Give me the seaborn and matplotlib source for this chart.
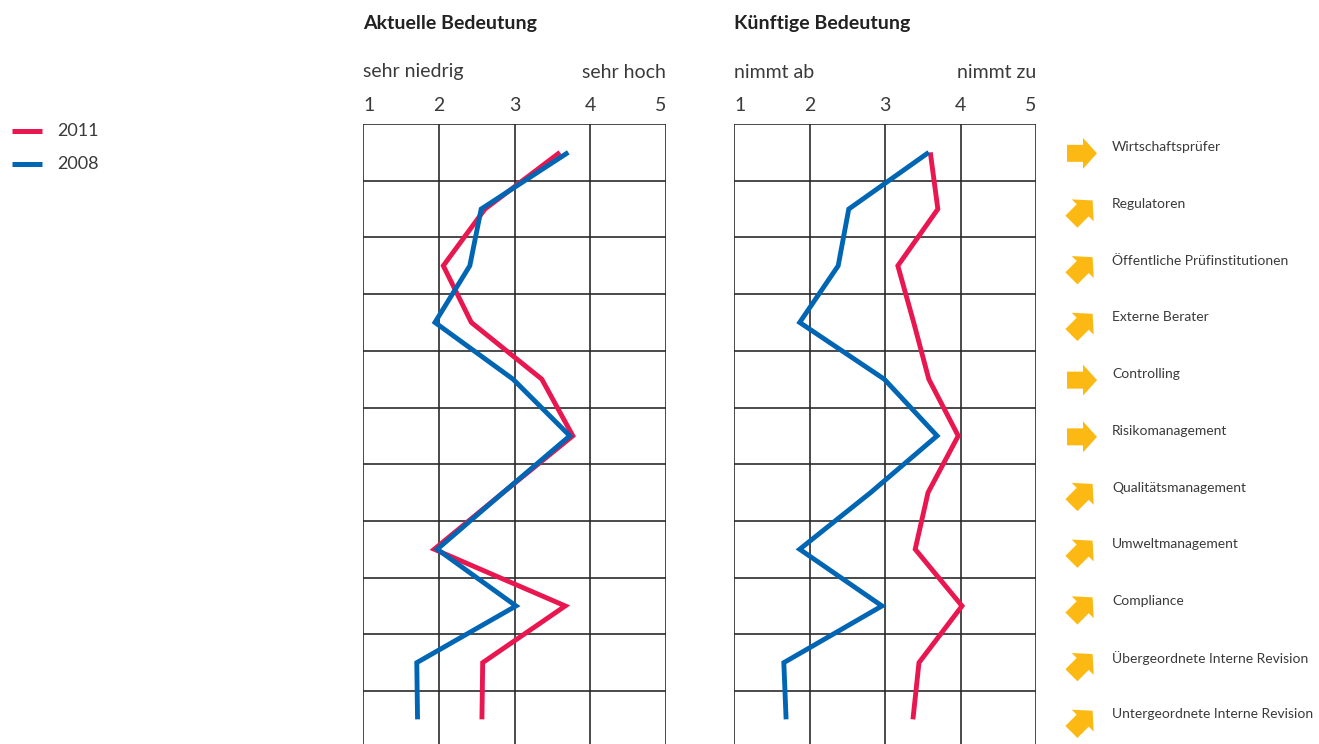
import numpy as np
import pandas as pd
import matplotlib
matplotlib.use("Agg")
import matplotlib.pyplot as plt
from matplotlib.patches import Polygon
import seaborn as sns

# --- data -------------------------------------------------------------
categories = [
    "Wirtschaftsprüfer",
    "Regulatoren",
    "Öffentliche Prüfinstitutionen",
    "Externe Berater",
    "Controlling",
    "Risikomanagement",
    "Qualitätsmanagement",
    "Umweltmanagement",
    "Compliance",
    "Übergeordnete Interne Revision",
    "Untergeordnete Interne Revision",
]
years = ["2011", "2008"]

current_2011 = [3.60, 2.61, 2.06, 2.43, 3.36, 3.77, 2.85, 1.94, 3.67, 2.58, 2.57]
current_2008 = [3.71, 2.56, 2.41, 1.95, 2.98, 3.73, 2.85, 1.98, 3.02, 1.71, 1.72]
future_2011 = [3.60, 3.70, 3.17, 3.38, 3.58, 3.97, 3.57, 3.40, 4.02, 3.45, 3.37]
future_2008 = [3.58, 2.52, 2.38, 1.87, 2.99, 3.69, 2.81, 1.87, 2.96, 1.66, 1.69]

# trend direction per category: "right" = stable, "up" = rising
trend = ["right", "up", "up", "up", "right", "right", "up", "up", "up", "up", "up"]

scale_ticks = [1, 2, 3, 4, 5]
panel_titles = ["Aktuelle Bedeutung", "Künftige Bedeutung"]
scale_ends = [("sehr niedrig", "sehr hoch"), ("nimmt ab", "nimmt zu")]

# --- style ------------------------------------------------------------
sns.set_theme(style="white")
plt.rcParams["font.family"] = ["Lato", "DejaVu Sans"]
TEXT = "#3a3a3a"
GRID = "#2b2b2b"
palette = {"2011": "#E8174F", "2008": "#0066B3"}
ARROW = "#FDB913"

W, H = 1319, 744
fig = plt.figure(figsize=(W / 100, H / 100), dpi=100)
fig.patch.set_facecolor("white")

top_px, row_px = 124, 56.7
n = len(categories)
bottom_px = top_px + row_px * n


def axes_px(x0, x1):
    return fig.add_axes([x0 / W, (H - bottom_px) / H, (x1 - x0) / W, (bottom_px - top_px) / H])


def long_frame(a, b):
    rows = []
    for yr, vals in zip(years, (a, b)):
        for i, v in enumerate(vals):
            rows.append({"year": yr, "row": i, "value": v})
    return pd.DataFrame(rows)


panels = [
    (363, 666, long_frame(current_2011, current_2008)),
    (734, 1036, long_frame(future_2011, future_2008)),
]

for (x0, x1, df), title, (lo, hi) in zip(panels, panel_titles, scale_ends):
    ax = axes_px(x0, x1)
    ax.set_facecolor("white")
    sns.lineplot(
        data=df, x="value", y="row", hue="year", hue_order=years,
        palette=palette, orient="y", sort=False, estimator=None,
        linewidth=3.5, legend=False, ax=ax,
        solid_capstyle="butt", solid_joinstyle="miter",
    )
    ax.set_xlim(1, 5)
    ax.set_ylim(n - 0.5, -0.5)
    for s in ax.spines.values():
        s.set_visible(False)
    for xv in scale_ticks:
        ax.axvline(xv, color=GRID, lw=1.2, zorder=0)
    for yb in np.arange(-0.5, n, 1.0):
        ax.axhline(yb, color=GRID, lw=1.2, zorder=0)
    ax.set_yticks([])
    ax.set_xlabel("")
    ax.set_ylabel("")
    ax.xaxis.tick_top()
    ax.set_xticks(scale_ticks)
    ax.set_xticklabels([str(t) for t in scale_ticks], fontsize=14, color=TEXT)
    ax.tick_params(axis="x", length=0, pad=7)
    labels = ax.get_xticklabels()
    labels[0].set_ha("left")
    labels[-1].set_ha("right")

    fig.text(x0 / W, 1 - 72 / H, lo, fontsize=14, color=TEXT, ha="left", va="center")
    fig.text(x1 / W, 1 - 72 / H, hi, fontsize=14, color=TEXT, ha="right", va="center")
    fig.text(x0 / W, 1 - 23 / H, title, fontsize=14, color="#222222",
             fontweight="bold", ha="left", va="center")

# --- legend -----------------------------------------------------------
for yr, ypx in zip(years, (131, 164)):
    fig.add_artist(plt.Line2D([12 / W, 42 / W], [1 - ypx / H] * 2,
                              color=palette[yr], lw=3.6, solid_capstyle="butt"))
    fig.text(57 / W, 1 - ypx / H, yr, fontsize=13, color=TEXT, ha="left", va="center")

# --- category labels with trend arrows --------------------------------
lab_x0 = 1055
lax = axes_px(lab_x0, W)
lax.set_xlim(0, W - lab_x0)
lax.set_ylim(n - 0.5, -0.5)
lax.axis("off")

# block arrow in screen pixels (x right, y down), pointing right
shape = np.array([
    [-15, -8.5], [1, -8.5], [1, -15.5], [15, 0], [1, 15.5], [1, 8.5], [-15, 8.5],
])
th = np.deg2rad(-45)
rot = np.array([[np.cos(th), -np.sin(th)], [np.sin(th), np.cos(th)]])

for i, (name, t) in enumerate(zip(categories, trend)):
    pts = shape if t == "right" else shape @ rot.T
    cx = 1082 - lab_x0
    cy_off = 1.0 if t == "right" else 2.0
    xy = np.column_stack([cx + pts[:, 0], i + (pts[:, 1] + cy_off) / row_px])
    lax.add_patch(Polygon(xy, closed=True, facecolor=ARROW, edgecolor="none"))
    lax.text(1112 - lab_x0, i - 5 / row_px, name, fontsize=10, color=TEXT,
             ha="left", va="center")

fig.savefig("out.png", dpi=100, facecolor="white")
